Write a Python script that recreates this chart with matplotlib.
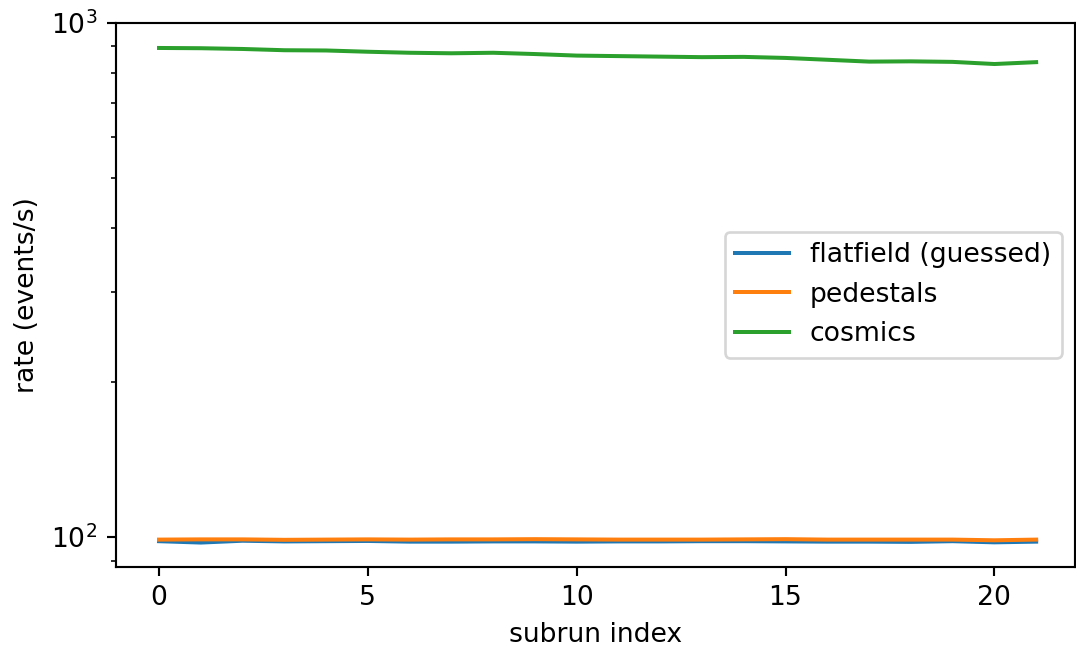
import matplotlib
matplotlib.use("Agg")
import matplotlib.pyplot as plt
import numpy as np

subrun = list(range(22))
flatfield = [98.2, 97.6, 98.4, 98.1, 98.2, 98.3, 98.0, 98.0, 98.1, 98.1, 98.0, 98.1,
             98.1, 98.2, 98.2, 98.1, 98.0, 98.0, 97.9, 98.2, 97.7, 98.0]
pedestals = [98.9, 99.0, 99.0, 98.8, 98.9, 99.0, 98.9, 99.0, 99.0, 99.1, 99.0, 98.9,
             98.9, 98.9, 99.0, 99.1, 98.9, 98.9, 98.9, 98.9, 98.6, 98.9]
cosmics = [894, 893, 890, 885, 884, 879, 875, 873, 875, 870, 864, 862,
           860, 858, 859, 855, 848, 841, 842, 840, 832, 839]

DPI = 192
fig = plt.figure(figsize=(1076/DPI, 649/DPI), dpi=DPI)
ax = fig.add_axes([116/1076, 1 - 566.7/649, (1075-116)/1076, (566.7-22.5)/649])
ax.plot(subrun, flatfield, label="flatfield (guessed)")
ax.plot(subrun, pedestals, label="pedestals")
ax.plot(subrun, cosmics, label="cosmics")
ax.set_yscale("log")
ax.set_ylim(87.6, 1002)
ax.set_xlim(-1.03, 21.93)
ax.set_xticks([0, 5, 10, 15, 20])
ax.set_xlabel("subrun index")
ax.set_ylabel("rate (events/s)")
ax.legend(loc="center right")
fig.savefig("out.png", dpi=DPI)
